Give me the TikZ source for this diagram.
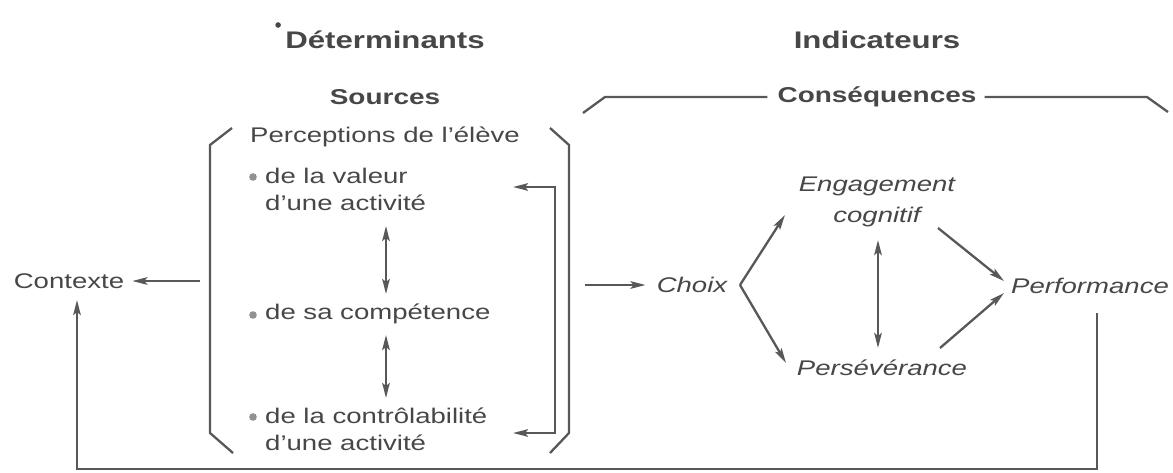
\documentclass[tikz,border=0pt]{standalone}
\usepackage{fontspec}
\setmainfont[FakeStretch=1.3]{Liberation Sans}
\usetikzlibrary{arrows.meta}
\definecolor{ink}{HTML}{474747}
\definecolor{stroke}{HTML}{585858}
\begin{document}
\begin{tikzpicture}[x=1pt,y=-1pt,
  every node/.style={text=ink, inner sep=0pt},
  head/.style={font=\fontsize{24}{28}\selectfont\bfseries},
  sub/.style={font=\fontsize{21.5}{25}\selectfont\bfseries},
  txt/.style={font=\fontsize{21.2}{27}\selectfont},
  itx/.style={font=\fontsize{21.2}{31}\selectfont\itshape},
  ln/.style={draw=stroke, line width=2.3pt},
  tip/.tip={Stealth[length=15pt,width=7.5pt,inset=3pt]},
  arr/.style={ln, -tip},
  dbl/.style={ln, tip-tip},
  bul/.style={fill=ink!60},
]
\fill[white] (0,0) rectangle (1173,473);
\useasboundingbox (0,0) rectangle (1173,473);

% headings
\node[head] (det) at (385,40) {Déterminants};
\fill[ink] ([xshift=-7pt,yshift=15pt]det.west) circle (2.8pt);
\node[head] (ind) at (877,40) {Indicateurs};
\node[sub] (src) at (385,97) {Sources};
\node[sub] (cons) at (877,97) {Conséquences};
\draw[ln] (583,113) -- (605,97) -- ([xshift=-10pt]cons.west);
\draw[ln] ([xshift=8pt]cons.east) -- (1147,97) -- (1168,112);

% sources bracket
\draw[ln] (232,128) -- (210,145) -- (210,433) -- (233,453);
\draw[ln] (550,128) -- (569,145) -- (569,433) -- (550,453);

\node[txt] (perc) at (385,137) {Perceptions de l’élève};
\node[txt, anchor=west, align=left] (v1) at (265,189) {de la valeur\\d’une activité};
\fill[bul] (253,177) circle (3.8pt);
\node[txt, anchor=west] (c2) at (265,314) {de sa compétence};
\fill[bul] (253,315) circle (3.8pt);
\node[txt, anchor=west, align=left] (c3) at (265,429) {de la contrôlabilité\\d’une activité};
\fill[bul] (253,417) circle (3.8pt);

\coordinate (a1) at (386,226);
\coordinate (a2) at (386,294);
\coordinate (a3) at (386,335);
\coordinate (a4) at (386,398);
\draw[dbl] (a1) -- (a2);
\draw[dbl] (a3) -- (a4);

\coordinate (f1) at (513,187);
\coordinate (f2) at (513,433);
\draw[dbl] (f1) -- (555,187) -- (555,433) -- (f2);

% context
\node[txt] (ctx) at (69,281) {Contexte};
\coordinate (lb) at (200,281);
\draw[arr, shorten >=8pt] (lb) -- (ctx.east);

% consequences
\node[itx] (choix) at (692,285) {Choix};
\coordinate (rb) at (585,285);
\draw[arr, shorten >=11pt] (rb) -- (choix.west);
\coordinate (v) at (740,285);
\node[itx, align=center] (eng) at (877,202) {Engagement\\cognitif};
\node[itx] (pers) at (882,368) {Persévérance};
\node[itx] (perf) at (1090,286) {Performance};
\coordinate (e1) at (785,215);
\coordinate (p1) at (786,363);
\draw[arr] (v) -- (e1);
\draw[arr] (v) -- (p1);
\coordinate (m1) at (878,240);
\coordinate (m2) at (878,348);
\draw[dbl] (m1) -- (m2);
\coordinate (g1) at (938,228);
\coordinate (g2) at (940,348);
\coordinate (q1) at (1004,281);
\coordinate (q2) at (1004,293);
\draw[arr] (g1) -- (q1);
\draw[arr] (g2) -- (q2);

% feedback loop
\coordinate (pb) at (1097,313);
\coordinate (cb) at (77,300);
\draw[arr] (pb) -- (1097,469) -- (77,469) -- (cb);
\end{tikzpicture}
\end{document}
